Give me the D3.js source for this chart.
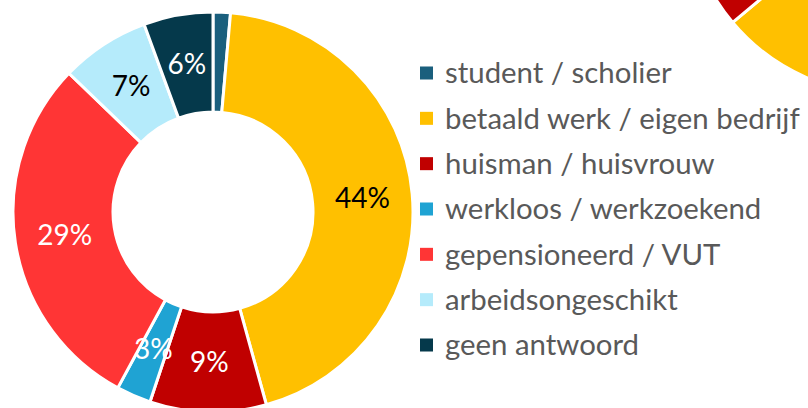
<!DOCTYPE html>
<html><head><meta charset="utf-8">
<script src="https://cdn.jsdelivr.net/npm/d3@7/dist/d3.min.js"></script>
<style>html,body{margin:0;padding:0;background:#fff;}svg{display:block;}</style>
</head><body>
<svg id="c" width="808" height="408"></svg>
<script>
const categories = ["student / scholier","betaald werk / eigen bedrijf","huisman / huisvrouw","werkloos / werkzoekend","gepensioneerd / VUT","arbeidsongeschikt","geen antwoord"];
const values = [1.4, 44.3, 9.4, 2.8, 29.3, 7.2, 5.6];
const labels = ["", "44%", "9%", "3%", "29%", "7%", "6%"];
const colors = ["#1a5f7d","#ffc000","#c00000","#1fa3d3","#ff3535","#b5ebfb","#05394b"];
const labelColors = ["#fff","#000","#fff","#fff","#fff","#000","#fff"];
// neighbouring chart, only partly visible at top right
const values2 = [1.5, 62.4, 10, 3, 15, 4, 4.1];

const svg = d3.select("#c");
const font = "Lato, 'Noto Sans', sans-serif";
const pie = d3.pie().sort(null).value(d => d);
const arc = d3.arc().innerRadius(100).outerRadius(200);
const labelArc = d3.arc().innerRadius(150).outerRadius(150);

function donut(cx, cy, vals, showLabels) {
  const g = svg.append("g").attr("transform", `translate(${cx},${cy})`);
  const arcs = pie(vals);
  g.selectAll("path").data(arcs).join("path")
    .attr("d", arc).attr("fill", (d,i) => colors[i])
    .attr("stroke", "#fff").attr("stroke-width", 3);
  if (showLabels) {
    g.selectAll("text").data(arcs).join("text")
      .attr("transform", d => { const c = labelArc.centroid(d); return `translate(${c[0]},${c[1]})`; })
      .attr("text-anchor", "middle").attr("dy", "0.35em")
      .attr("font-family", font).attr("font-size", 28)
      .attr("fill", (d,i) => labelColors[i])
      .text((d,i) => labels[i]);
  }
}
donut(886, -106, values2, false);
donut(213, 212, values, true);

const legend = svg.append("g");
const rowY = d3.scalePoint().domain(categories).range([73, 345]);
const rows = legend.selectAll("g").data(categories).join("g")
  .attr("transform", d => `translate(420,${rowY(d)})`);
rows.append("rect").attr("x", 0).attr("y", -6.5).attr("width", 13).attr("height", 13)
  .attr("fill", (d,i) => colors[i]);
const texts = rows.append("text").attr("x", 25).attr("dy", "0.35em")
  .attr("font-family", font).attr("font-size", 27).attr("fill", "#595959")
  .text(d => d);
// fit the longest legend entry to the width seen in the reference
let maxW = 0;
texts.each(function(){ maxW = Math.max(maxW, this.getComputedTextLength()); });
if (maxW > 0) texts.attr("font-size", 27 * 355 / maxW);
</script>
</body></html>
